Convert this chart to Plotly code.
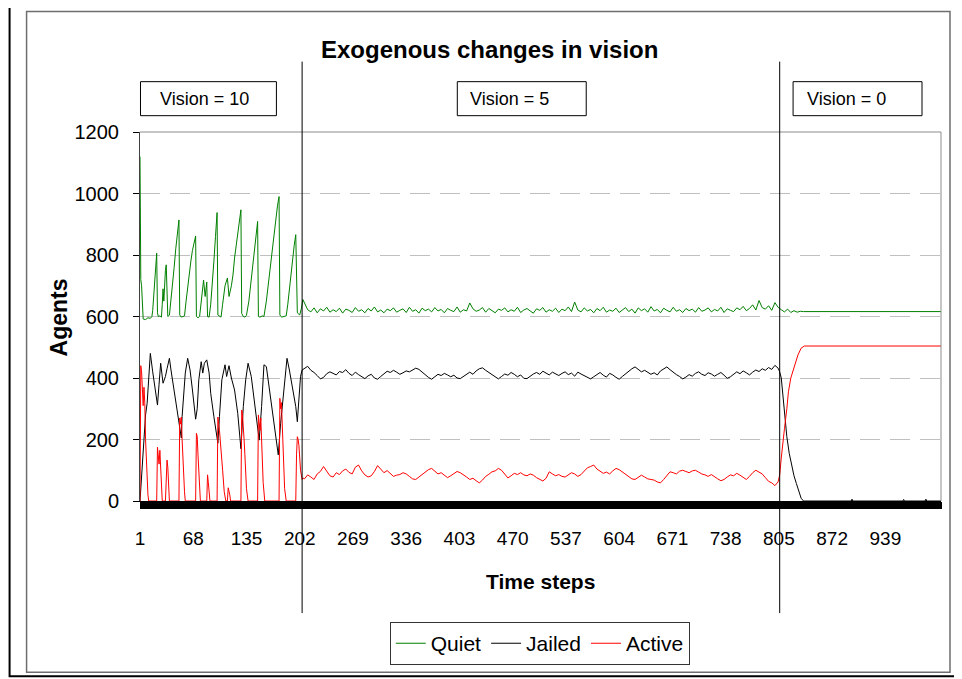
import plotly.graph_objects as go

# ---------------- data ----------------
tick_labels = [1, 68, 135, 202, 269, 336, 403, 470, 537, 604, 671, 738, 805, 872, 939]

quiet_osc_steps = [1, 2, 3, 4, 5, 8, 11, 14, 16, 17, 18, 19, 20, 21, 22, 23, 24, 26, 28, 29,
                   30, 31, 32, 33, 34, 35, 36, 38, 40, 42, 44, 46, 48, 50, 51, 53, 55, 57, 59, 61,
                   63, 65, 67, 69, 71, 72, 74, 76, 78, 80, 81, 83, 85, 86, 88, 90, 92, 94, 96, 98,
                   99, 101, 103, 105, 108, 111, 113, 116, 118, 120, 124, 128, 129, 131, 133, 135, 138, 141, 144, 147,
                   149, 150, 152, 155, 157, 160, 163, 166, 169, 172, 174, 176, 177, 179, 182, 185, 187, 190, 193, 195,
                   197, 198, 199, 202, 204, 206]
quiet_osc = [1120, 720, 700, 600, 592, 590, 596, 594, 600, 620, 660, 700, 745, 780, 806, 612, 600, 602, 598, 640,
             690, 650, 720, 750, 768, 640, 600, 604, 650, 700, 760, 820, 870, 914, 605, 598, 600, 602, 650, 700,
             745, 780, 815, 845, 862, 600, 596, 600, 650, 700, 718, 665, 712, 600, 598, 640, 700, 780, 860, 938,
             605, 600, 598, 640, 700, 725, 665, 700, 735, 790, 870, 947, 610, 600, 598, 604, 650, 720, 800, 870,
             909, 600, 598, 602, 600, 650, 720, 790, 860, 920, 960, 990, 605, 598, 600, 602, 640, 720, 790, 830,
             866, 700, 612, 605, 625, 655]

jailed_osc_steps = [1, 2, 3, 5, 6, 8, 10, 12, 14, 17, 20, 23, 25, 27, 30, 33, 35, 38, 40, 42,
                    46, 50, 53, 54, 58, 61, 64, 67, 71, 73, 75, 78, 80, 82, 85, 88, 90, 94, 99, 101,
                    104, 108, 110, 113, 116, 120, 124, 128, 131, 134, 137, 141, 145, 149, 151, 154, 157, 160, 164, 168,
                    172, 175, 178, 182, 186, 189, 193, 197, 199, 201, 203, 205]
jailed_osc = [0, 40, 46, 150, 198, 280, 318, 400, 480, 420, 360, 312, 380, 448, 383, 405, 430, 464, 426, 394,
              330, 264, 205, 275, 416, 464, 426, 361, 266, 300, 394, 453, 416, 448, 459, 416, 350, 274, 188, 275,
              394, 443, 405, 440, 400, 361, 285, 170, 307, 394, 448, 405, 329, 242, 198, 307, 443, 437, 361, 274,
              198, 150, 253, 372, 464, 426, 372, 307, 258, 340, 405, 426]

active_osc_steps = [1, 2, 3, 4, 5, 6, 7, 8, 9, 10, 11, 12,
                    22, 23, 24, 25, 26, 27, 28, 29,
                    33, 34, 35, 36, 37, 38,
                    50, 51, 52, 53, 54, 55, 56, 57, 58,
                    71, 72, 73, 74, 75, 76, 77,
                    85, 86, 87, 88, 89,
                    98, 99, 101, 103, 105, 107, 109,
                    111, 112, 114, 115,
                    128, 129, 130, 131, 132, 133, 134, 135, 137,
                    149, 150, 151, 152, 153, 154, 155, 156, 158,
                    176, 177, 178, 179, 180, 181, 182, 183, 185,
                    197, 198, 199, 200, 201, 202, 203, 205, 206]
active_osc = [0, 440, 420, 330, 310, 370, 320, 200, 120, 60, 20, 0,
              0, 175, 150, 120, 165, 90, 40, 0,
              0, 60, 133, 110, 50, 0,
              0, 270, 250, 273, 200, 130, 80, 30, 0,
              0, 220, 210, 150, 90, 40, 0,
              0, 85, 60, 20, 0,
              0, 273, 230, 150, 100, 30, 0,
              0, 43, 20, 0,
              0, 296, 280, 250, 200, 150, 90, 40, 0,
              0, 280, 260, 230, 270, 180, 120, 60, 0,
              0, 334, 300, 320, 240, 160, 90, 40, 0,
              0, 150, 209, 200, 180, 140, 100, 70, 75]

# steady phase (vision = 5), one reading every 4 time steps from 208 to 804
steady_steps = list(range(208, 805, 4))
quiet_steady = [645, 622, 615, 628, 612, 625, 618, 630, 614, 622,
                616, 627, 611, 624, 620, 613, 629, 617, 622, 612,
                626, 618, 631, 615, 621, 612, 624, 619, 628, 614,
                620, 625, 613, 630, 617, 622, 611, 627, 619, 624,
                615, 629, 618, 623, 612, 626, 620, 616, 631, 614,
                622, 618, 644, 625, 617, 621, 629, 614, 626, 619,
                612, 624, 620, 628, 615, 622, 617, 630, 613, 621,
                626, 618, 611, 625, 620, 629, 614, 622, 617, 627,
                613, 624, 619, 631, 616, 647, 621, 615, 628, 618,
                623, 612, 626, 619, 630, 614, 621, 617, 627, 613,
                622, 629, 616, 624, 611, 628, 619, 625, 614, 632,
                618, 623, 612, 627, 620, 615, 630, 617, 622, 613,
                626, 619, 624, 614, 629, 617, 621, 628, 615, 623,
                618, 630, 613, 625, 620, 616, 628, 622, 633, 619,
                626, 638, 621, 652, 629, 624, 635, 620, 645, 630]
jailed_steady = [430, 438, 425, 418, 408, 397, 402, 414, 420, 416,
                 410, 421, 418, 427, 415, 408, 419, 411, 404, 398,
                 407, 412, 400, 396, 405, 415, 422, 418, 425, 419,
                 412, 417, 423, 420, 426, 432, 428, 419, 411, 402,
                 396, 405, 412, 408, 415, 410, 404, 409, 400, 398,
                 406, 414, 419, 412, 423, 430, 433, 425, 418, 410,
                 403, 397, 405, 413, 409, 418, 412, 404, 410, 399,
                 398, 407, 413, 418, 412, 422, 416, 410, 419, 414,
                 408, 415, 420, 411, 416, 406, 419, 413, 408, 401,
                 397, 404, 412, 418, 409, 403, 415, 410, 402, 396,
                 405, 414, 421, 430, 436, 428, 420, 425, 418, 412,
                 417, 410, 423, 431, 436, 427, 418, 411, 405, 397,
                 403, 411, 406, 415, 420, 412, 408, 417, 413, 406,
                 412, 418, 409, 399, 404, 413, 420, 414, 423, 417,
                 410, 419, 426, 421, 430, 425, 434, 428, 441, 432]
active_steady = [72, 85, 78, 70, 88, 96, 112, 95, 82, 78,
                 92, 86, 98, 104, 93, 88, 110, 117, 98, 85,
                 78, 82, 96, 115, 104, 92, 99, 88, 80, 84,
                 86, 92, 88, 80, 72, 70, 78, 86, 95, 102,
                 106, 98, 88, 92, 84, 76, 82, 90, 96, 92,
                 86, 78, 70, 74, 66, 59, 68, 80, 87, 95,
                 98, 106, 100, 88, 75, 82, 90, 86, 92, 85,
                 82, 88, 84, 76, 70, 65, 74, 95, 88, 82,
                 86, 80, 78, 84, 92, 88, 80, 86, 98, 108,
                 112, 117, 104, 96, 90, 94, 88, 98, 106, 102,
                 94, 88, 80, 72, 70, 76, 84, 78, 72, 70,
                 68, 62, 59, 70, 82, 95, 92, 88, 97, 100,
                 96, 92, 98, 100, 94, 88, 85, 80, 86, 78,
                 72, 66, 70, 78, 85, 82, 90, 84, 76, 70,
                 80, 92, 100, 94, 88, 76, 64, 59, 50, 62]

# last phase (vision = 0)
quiet_end_steps = [808, 812, 816, 820, 824, 828, 832, 836, 1009]
quiet_end = [622, 615, 624, 613, 619, 614, 617, 616, 616]
jailed_end_steps = [806, 808, 810, 812, 815, 818, 821, 824, 827, 830, 833, 836,
                    896, 897, 898, 961, 962, 963, 989, 990, 991, 1009]
jailed_end = [420, 400, 345, 300, 209, 155, 112, 82, 57, 32, 9, 0,
              0, 6, 0, 0, 5, 0, 0, 6, 0, 0]
active_end_steps = [806, 808, 810, 812, 815, 817, 820, 823, 826, 829, 833, 837, 1009]
active_end = [85, 140, 180, 235, 300, 355, 400, 426, 452, 475, 497, 504, 504]

# ---------------- layout geometry ----------------
W, H = 962, 679
OFF = 8  # page body margin: figure is drawn 8px right/down in the window
# target plot-area box in window pixels
PL, PR, PT, PB = 139.5, 941.0, 132.3, 501.0
FONT = "Liberation Sans, Arial, sans-serif"


def fx(px):
    return (px - PL) / (PR - PL)


def fy(py):
    return (PB - py) / (PB - PT)


series = [
    ("Quiet", quiet_osc_steps + steady_steps + quiet_end_steps, quiet_osc + quiet_steady + quiet_end, "#008000"),
    ("Jailed", jailed_osc_steps + steady_steps + jailed_end_steps, jailed_osc + jailed_steady + jailed_end, "#000000"),
    ("Active", active_osc_steps + steady_steps + active_end_steps, active_osc + active_steady + active_end, "#ff0000"),
]

fig = go.Figure()
for name, xs, ys, color in series:
    fig.add_trace(go.Scatter(x=xs, y=ys, mode="lines", name=name,
                             line=dict(color=color, width=1)))

shapes = []
shapes.append(dict(type="line", xref="paper", yref="paper", x0=0, x1=1, y0=1, y1=1,
                   line=dict(color="#8c8c8c", width=1)))
shapes.append(dict(type="line", xref="paper", yref="paper", x0=1, x1=1, y0=0, y1=1,
                   line=dict(color="#8c8c8c", width=1)))
for xv in (205, 806):
    shapes.append(dict(type="line", xref="x", yref="paper", x0=xv, x1=xv, y0=fy(613), y1=fy(62),
                       line=dict(color="#000000", width=1)))
for (a, b) in [(140, 276), (457, 586), (793, 922)]:
    shapes.append(dict(type="rect", xref="paper", yref="paper", x0=fx(a), x1=fx(b), y0=fy(116), y1=fy(82),
                       line=dict(color="#000000", width=1), fillcolor="white", layer="above"))
shapes.append(dict(type="rect", xref="paper", yref="paper", x0=fx(26), x1=fx(950), y0=fy(672), y1=fy(12),
                   line=dict(color="#6e6e6e", width=1.5)))
shapes.append(dict(type="rect", xref="paper", yref="paper", x0=fx(9), x1=fx(957), y0=fy(676), y1=fy(5),
                   line=dict(color="#000000", width=2)))

annotations = [
    dict(text="<b>Exogenous changes in vision</b>", x=fx(489), y=fy(50), xref="paper", yref="paper",
         showarrow=False, font=dict(size=24, color="black", family=FONT), xanchor="center", yanchor="middle"),
    dict(text="<b>Agents</b>", x=fx(58), y=fy(318), xref="paper", yref="paper", textangle=-90,
         showarrow=False, font=dict(size=23, color="black", family=FONT), xanchor="center", yanchor="middle"),
    dict(text="<b>Time steps</b>", x=fx(540), y=fy(581), xref="paper", yref="paper",
         showarrow=False, font=dict(size=21, color="black", family=FONT), xanchor="center", yanchor="middle"),
]
for txt, left in [("Vision = 10", 158), ("Vision = 5", 468), ("Vision = 0", 805)]:
    annotations.append(dict(text=txt, x=fx(left), y=fy(99), xref="paper", yref="paper", showarrow=False,
                            font=dict(size=18, color="black", family=FONT), xanchor="left", yanchor="middle"))

fig.update_layout(
    width=W, height=H,
    margin=dict(l=PL - OFF, r=W - (PR - OFF), t=PT - OFF, b=H - (PB - OFF), pad=0, autoexpand=False),
    paper_bgcolor="white", plot_bgcolor="white",
    font=dict(family=FONT, color="black", size=20),
    showlegend=True,
    legend=dict(orientation="h", x=fx(539.5), y=fy(622), xanchor="center", yanchor="top",
                bordercolor="#333333", borderwidth=1, bgcolor="white",
                font=dict(size=21, family=FONT, color="black"), itemwidth=30),
    xaxis=dict(range=[1, 1009], tickmode="array", tickvals=tick_labels, ticktext=[str(t) for t in tick_labels],
               ticks="outside", ticklen=7, tickcolor="black", tickwidth=1, automargin=False,
               showline=True, linecolor="black", linewidth=1, showgrid=False, zeroline=False,
               tickfont=dict(size=19, family=FONT, color="black"), ticklabelstandoff=13,
               minor=dict(ticks="outside", ticklen=7, tickcolor="black", tickwidth=1, tick0=1, dtick=1,
                          showgrid=False)),
    yaxis=dict(range=[0, 1200], tickmode="array", tickvals=[0, 200, 400, 600, 800, 1000, 1200],
               ticks="outside", ticklen=6, tickcolor="black", tickwidth=1, automargin=False,
               showline=True, linecolor="#404040", linewidth=1,
               showgrid=True, gridcolor="#c0c0c0", gridwidth=1, griddash="20px,10px", zeroline=False,
               tickfont=dict(size=20, family=FONT, color="black"), ticklabelstandoff=10),
    shapes=shapes,
    annotations=annotations,
)

fig.write_html("out.html")
